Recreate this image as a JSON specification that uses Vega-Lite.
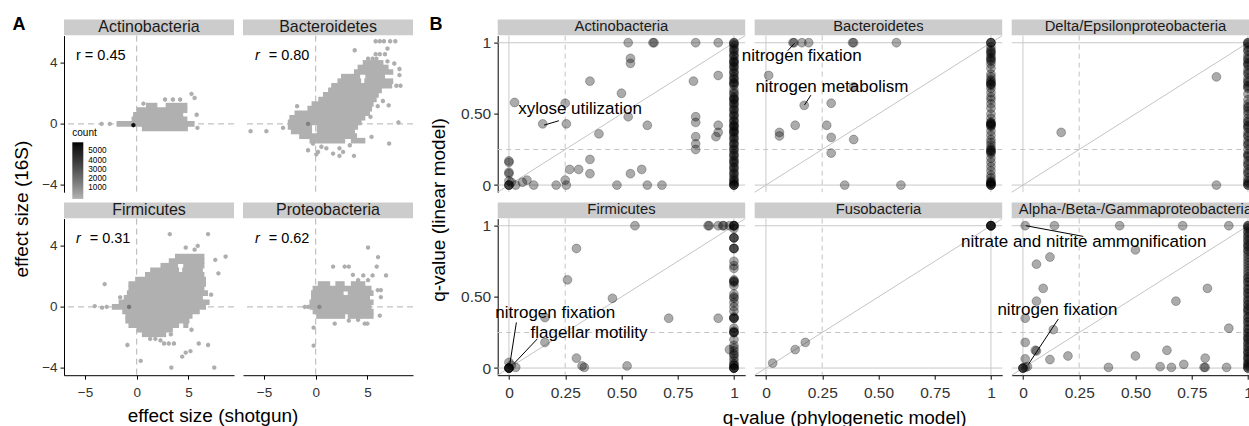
{
"$schema":"https://vega.github.io/schema/vega-lite/v6.json",
"usermeta":{"embedOptions":{"actions":false}},
"background":"white",
"padding":{"left":12,"top":15.6,"right":0,"bottom":0},
"config":{
 "font":"Liberation Sans",
 "view":{"stroke":null},
 "axis":{"grid":false,"domainColor":"#000","tickColor":"#000","labelColor":"#333","tickSize":4,"labelPadding":3,"domainWidth":1,"tickWidth":1,"labelFlush":false,"title":null},
 "axisX":{"labelPadding":6},
 "title":{"font":"Liberation Sans","fontWeight":"normal","color":"#000","fontSize":19}
},
"datasets":{
 "hexseg":[
  {"p":"Ac","y":1.2,"x":0.9,"x2":2.0},{"p":"Ac","y":1.2,"x":2.8,"x2":4.9},{"p":"Ac","y":0.9,"x":0.0,"x2":4.9},{"p":"Ac","y":0.6,"x":-0.35,"x2":4.5},{"p":"Ac","y":0.3,"x":-0.5,"x2":4.9},{"p":"Ac","y":0,"x":-1.95,"x2":5.6},{"p":"Ac","y":-0.3,"x":0.5,"x2":4.95},
  {"p":"Ba","y":4.0,"x":4.55,"x2":6.55},{"p":"Ba","y":3.7,"x":4.05,"x2":7.05},{"p":"Ba","y":3.4,"x":3.7,"x2":7.5},{"p":"Ba","y":3.1,"x":2.45,"x2":4.3},{"p":"Ba","y":3.1,"x":4.8,"x2":6.7},{"p":"Ba","y":2.8,"x":2.1,"x2":4.4},{"p":"Ba","y":2.8,"x":4.7,"x2":7.5},{"p":"Ba","y":2.5,"x":1.5,"x2":7.4},{"p":"Ba","y":2.2,"x":1.2,"x2":6.4},{"p":"Ba","y":1.9,"x":0.7,"x2":6.1},{"p":"Ba","y":1.6,"x":0.25,"x2":5.9},{"p":"Ba","y":1.3,"x":-0.4,"x2":5.6},{"p":"Ba","y":1.0,"x":-0.8,"x2":5.45},{"p":"Ba","y":0.7,"x":-2.05,"x2":5.25},{"p":"Ba","y":0.4,"x":-2.55,"x2":4.8},{"p":"Ba","y":0.1,"x":-2.7,"x2":4.45},{"p":"Ba","y":-0.2,"x":-2.7,"x2":-0.35},{"p":"Ba","y":-0.2,"x":0.1,"x2":4.1},{"p":"Ba","y":-0.5,"x":-2.4,"x2":-0.35},{"p":"Ba","y":-0.5,"x":0.1,"x2":3.8},{"p":"Ba","y":-0.8,"x":-1.6,"x2":4.0},{"p":"Ba","y":-1.1,"x":-0.6,"x2":2.85},{"p":"Ba","y":-1.1,"x":3.4,"x2":4.8},
  {"p":"Fi","y":3.3,"x":3.7,"x2":6.55},{"p":"Fi","y":3.0,"x":3.1,"x2":6.55},{"p":"Fi","y":2.7,"x":2.3,"x2":4.0},{"p":"Fi","y":2.7,"x":4.5,"x2":6.55},{"p":"Fi","y":2.4,"x":1.3,"x2":4.1},{"p":"Fi","y":2.4,"x":4.4,"x2":6.4},{"p":"Fi","y":2.1,"x":0.8,"x2":6.55},{"p":"Fi","y":1.8,"x":-0.15,"x2":6.7},{"p":"Fi","y":1.5,"x":-0.8,"x2":6.7},{"p":"Fi","y":1.2,"x":-0.8,"x2":6.55},{"p":"Fi","y":0.9,"x":-0.95,"x2":6.9},{"p":"Fi","y":0.6,"x":-1.25,"x2":6.4},{"p":"Fi","y":0.3,"x":-1.75,"x2":7.05},{"p":"Fi","y":0,"x":-2.4,"x2":6.7},{"p":"Fi","y":-0.3,"x":-1.4,"x2":6.1},{"p":"Fi","y":-0.6,"x":-1.1,"x2":5.4},{"p":"Fi","y":-0.9,"x":-1.1,"x2":5.1},{"p":"Fi","y":-1.2,"x":-0.8,"x2":4.1},{"p":"Fi","y":-1.2,"x":4.5,"x2":5.0},{"p":"Fi","y":-1.5,"x":0.0,"x2":3.5},{"p":"Fi","y":-1.8,"x":0.5,"x2":2.85},
  {"p":"Pr","y":1.5,"x":0.2,"x2":1.4},{"p":"Pr","y":1.5,"x":1.9,"x2":2.8},{"p":"Pr","y":1.5,"x":3.4,"x2":4.8},{"p":"Pr","y":1.2,"x":-0.3,"x2":5.4},{"p":"Pr","y":0.9,"x":-0.45,"x2":2.7},{"p":"Pr","y":0.9,"x":3.1,"x2":5.6},{"p":"Pr","y":0.6,"x":-0.45,"x2":5.25},{"p":"Pr","y":0.3,"x":-0.6,"x2":5.6},{"p":"Pr","y":0,"x":-0.6,"x2":5.4},{"p":"Pr","y":-0.3,"x":-0.3,"x2":5.6},{"p":"Pr","y":-0.6,"x":0.05,"x2":2.85},{"p":"Pr","y":-0.6,"x":3.1,"x2":5.6}
 ],
 "hexdot":[
  {"p":"Ac","x":5.3,"y":1.97,"n":5},{"p":"Ac","x":5.6,"y":1.7,"n":5},{"p":"Ac","x":2.74,"y":1.6,"n":5},{"p":"Ac","x":3.5,"y":1.6,"n":5},{"p":"Ac","x":4.2,"y":1.6,"n":5},{"p":"Ac","x":0.65,"y":1.33,"n":5},{"p":"Ac","x":5.8,"y":0.6,"n":5},{"p":"Ac","x":-3.4,"y":0,"n":5},{"p":"Ac","x":-2.6,"y":0,"n":5},{"p":"Ac","x":5.87,"y":-0.26,"n":5},{"p":"Ac","x":-0.32,"y":-0.08,"n":5600},
  {"p":"Ba","x":5.8,"y":5.42,"n":5},{"p":"Ba","x":6.2,"y":5.42,"n":5},{"p":"Ba","x":6.6,"y":5.42,"n":5},{"p":"Ba","x":7.2,"y":5.42,"n":5},{"p":"Ba","x":7.7,"y":5.42,"n":5},{"p":"Ba","x":3.77,"y":4.83,"n":5},{"p":"Ba","x":6.94,"y":4.94,"n":5},{"p":"Ba","x":5.8,"y":4.57,"n":5},{"p":"Ba","x":6.2,"y":4.57,"n":5},{"p":"Ba","x":6.7,"y":4.57,"n":5},{"p":"Ba","x":5.06,"y":4.28,"n":5},{"p":"Ba","x":5.5,"y":4.28,"n":5},{"p":"Ba","x":5.87,"y":4.28,"n":5},{"p":"Ba","x":6.94,"y":4.1,"n":5},{"p":"Ba","x":7.6,"y":3.96,"n":5},{"p":"Ba","x":8.1,"y":3.6,"n":5},{"p":"Ba","x":8.1,"y":3.2,"n":5},{"p":"Ba","x":7.8,"y":2.5,"n":5},{"p":"Ba","x":8.2,"y":2.5,"n":5},{"p":"Ba","x":6.5,"y":1.5,"n":5},{"p":"Ba","x":7.06,"y":1.22,"n":5},{"p":"Ba","x":6.0,"y":1.16,"n":5},{"p":"Ba","x":-1.8,"y":1.16,"n":5},{"p":"Ba","x":5.3,"y":0.46,"n":5},{"p":"Ba","x":8.0,"y":0.09,"n":5},{"p":"Ba","x":-3.16,"y":-0.26,"n":5},{"p":"Ba","x":-4.77,"y":-0.48,"n":5},{"p":"Ba","x":-6.3,"y":-0.48,"n":5},{"p":"Ba","x":5.4,"y":-0.85,"n":5},{"p":"Ba","x":-0.26,"y":-1.29,"n":5},{"p":"Ba","x":0.55,"y":-1.5,"n":5},{"p":"Ba","x":1.03,"y":-1.6,"n":5},{"p":"Ba","x":2.3,"y":-1.6,"n":5},{"p":"Ba","x":3.3,"y":-1.4,"n":5},{"p":"Ba","x":-0.74,"y":-1.73,"n":5},{"p":"Ba","x":0.23,"y":-1.84,"n":5},{"p":"Ba","x":1.68,"y":-1.95,"n":5},{"p":"Ba","x":2.65,"y":-1.84,"n":5},{"p":"Ba","x":0.06,"y":-2.0,"n":5},{"p":"Ba","x":2.3,"y":-2.1,"n":5},{"p":"Ba","x":3.7,"y":-2.1,"n":5},{"p":"Ba","x":7.1,"y":-1.29,"n":5},{"p":"Ba","x":-0.74,"y":0,"n":1500},
  {"p":"Fi","x":3.2,"y":4.77,"n":5},{"p":"Fi","x":6.9,"y":4.77,"n":5},{"p":"Fi","x":4.74,"y":3.89,"n":5},{"p":"Fi","x":5.9,"y":4.0,"n":5},{"p":"Fi","x":5.6,"y":3.75,"n":5},{"p":"Fi","x":8.6,"y":3.3,"n":5},{"p":"Fi","x":7.6,"y":3.08,"n":5},{"p":"Fi","x":7.9,"y":2.2,"n":5},{"p":"Fi","x":-3.1,"y":1.49,"n":5},{"p":"Fi","x":-1.6,"y":0.63,"n":5},{"p":"Fi","x":-4.06,"y":0.05,"n":5},{"p":"Fi","x":-3.35,"y":-0.05,"n":5},{"p":"Fi","x":-2.9,"y":0.0,"n":5},{"p":"Fi","x":-0.9,"y":-2.5,"n":5},{"p":"Fi","x":0.39,"y":-3.54,"n":5},{"p":"Fi","x":3.35,"y":-3.98,"n":5},{"p":"Fi","x":7.5,"y":-3.98,"n":5},{"p":"Fi","x":4.4,"y":-3.26,"n":5},{"p":"Fi","x":4.74,"y":-3.0,"n":5},{"p":"Fi","x":5.2,"y":-2.9,"n":5},{"p":"Fi","x":6.0,"y":-2.4,"n":5},{"p":"Fi","x":6.9,"y":-2.5,"n":5},{"p":"Fi","x":2.65,"y":-2.4,"n":5},{"p":"Fi","x":3.1,"y":-2.4,"n":5},{"p":"Fi","x":3.6,"y":-2.4,"n":5},{"p":"Fi","x":1.3,"y":-2.1,"n":5},{"p":"Fi","x":1.8,"y":-2.1,"n":5},{"p":"Fi","x":2.3,"y":-2.2,"n":5},{"p":"Fi","x":7.2,"y":0.8,"n":5},{"p":"Fi","x":5.3,"y":-1.5,"n":5},{"p":"Fi","x":3.3,"y":-1.8,"n":5},{"p":"Fi","x":-0.74,"y":0,"n":1800},
  {"p":"Pr","x":5.06,"y":3.89,"n":5},{"p":"Pr","x":6.03,"y":3.26,"n":5},{"p":"Pr","x":1.68,"y":2.64,"n":5},{"p":"Pr","x":2.8,"y":2.64,"n":5},{"p":"Pr","x":3.2,"y":2.64,"n":5},{"p":"Pr","x":5.9,"y":2.64,"n":5},{"p":"Pr","x":3.6,"y":2.1,"n":5},{"p":"Pr","x":4.6,"y":2.06,"n":5},{"p":"Pr","x":5.5,"y":2.06,"n":5},{"p":"Pr","x":6.8,"y":2.06,"n":5},{"p":"Pr","x":4.1,"y":1.75,"n":5},{"p":"Pr","x":5.06,"y":1.75,"n":5},{"p":"Pr","x":6.0,"y":1.1,"n":5},{"p":"Pr","x":6.3,"y":1.1,"n":5},{"p":"Pr","x":6.3,"y":0.64,"n":5},{"p":"Pr","x":6.2,"y":-0.57,"n":5},{"p":"Pr","x":1.84,"y":-1.1,"n":5},{"p":"Pr","x":3.2,"y":-0.9,"n":5},{"p":"Pr","x":4.1,"y":-0.85,"n":5},{"p":"Pr","x":4.74,"y":-1.1,"n":5},{"p":"Pr","x":5.0,"y":-1.1,"n":5},{"p":"Pr","x":-0.2,"y":-1.36,"n":5},{"p":"Pr","x":-0.2,"y":-2.54,"n":5},{"p":"Pr","x":-1.06,"y":0,"n":5},{"p":"Pr","x":-0.74,"y":0,"n":5},{"p":"Pr","x":0.36,"y":0,"n":1200}
 ],
 "rlab":[
  {"p":"Ac","x":-5.87,"xi":-5.87,"y":4.48,"rt":"r = 0.45","ri":""},
  {"p":"Ba","x":-4.55,"xi":-5.87,"y":4.48,"rt":"= 0.80","ri":"r"},
  {"p":"Fi","x":-4.55,"xi":-5.87,"y":4.48,"rt":"= 0.31","ri":"r"},
  {"p":"Pr","x":-4.55,"xi":-5.87,"y":4.48,"rt":"= 0.62","ri":"r"}
 ],
 "bref":[{"v":0,"k":"s"},{"v":1,"k":"s"},{"v":0.25,"k":"d"}],
 "diag":[{"a":-0.05,"b":1.05}],
 "lab":[
  {"p":"Ac","x":0.316,"y":0.532,"t":"xylose utilization"},
  {"p":"Ba","x":0.159,"y":0.906,"t":"nitrogen fixation"},
  {"p":"Ba","x":0.293,"y":0.687,"t":"nitrogen metabolism"},
  {"p":"Fi","x":0.206,"y":0.39,"t":"nitrogen fixation"},
  {"p":"Fi","x":0.356,"y":0.244,"t":"flagellar motility"},
  {"p":"Al","x":0.27,"y":0.884,"t":"nitrate and nitrite ammonification"},
  {"p":"Al","x":0.153,"y":0.409,"t":"nitrogen fixation"}
 ],
 "seg":[
  {"p":"Ac","x":0.156,"y":0.421,"x2":0.222,"y2":0.452},
  {"p":"Ba","x":0.127,"y":0.996,"x2":0.097,"y2":0.944},
  {"p":"Ba","x":0.171,"y":0.562,"x2":0.2,"y2":0.632},
  {"p":"Fi","x":0.003,"y":0.019,"x2":0.033,"y2":0.321},
  {"p":"Fi","x":0.022,"y":0.031,"x2":0.126,"y2":0.205},
  {"p":"Al","x":0.013,"y":1,"x2":0.268,"y2":0.925},
  {"p":"Al","x":0.024,"y":0.026,"x2":0.157,"y2":0.344}
 ],
 "pts":[
  {"p":"Ac","x":0.53,"y":1},{"p":"Ac","x":0.64,"y":1},{"p":"Ac","x":0.645,"y":1},{"p":"Ac","x":0.83,"y":1},{"p":"Ac","x":0.93,"y":1},
  {"p":"Ac","x":0.54,"y":0.89},{"p":"Ac","x":0.54,"y":0.855},{"p":"Ac","x":0.36,"y":0.73},{"p":"Ac","x":0.82,"y":0.73},{"p":"Ac","x":0.93,"y":0.77},
  {"p":"Ac","x":0.025,"y":0.58},{"p":"Ac","x":0.25,"y":0.575},{"p":"Ac","x":0.5,"y":0.645},{"p":"Ac","x":0.15,"y":0.43},{"p":"Ac","x":0.255,"y":0.43},
  {"p":"Ac","x":0.53,"y":0.48},{"p":"Ac","x":0.615,"y":0.42},{"p":"Ac","x":0.4,"y":0.36},{"p":"Ac","x":0.83,"y":0.48},{"p":"Ac","x":0.83,"y":0.44},
  {"p":"Ac","x":0.83,"y":0.34},{"p":"Ac","x":0.83,"y":0.29},{"p":"Ac","x":0.83,"y":0.25},{"p":"Ac","x":0.93,"y":0.42},{"p":"Ac","x":0.93,"y":0.37},{"p":"Ac","x":0.92,"y":0.34},
  {"p":"Ac","x":0.36,"y":0.18},{"p":"Ac","x":0.36,"y":0.08},{"p":"Ac","x":0.27,"y":0.11},{"p":"Ac","x":0.31,"y":0.11},{"p":"Ac","x":0.25,"y":0.035},{"p":"Ac","x":0.54,"y":0.08},{"p":"Ac","x":0.59,"y":0.11},
  {"p":"Ac","x":0.11,"y":0},{"p":"Ac","x":0.21,"y":0},{"p":"Ac","x":0.255,"y":0},{"p":"Ac","x":0.48,"y":0},{"p":"Ac","x":0.615,"y":0},{"p":"Ac","x":0.68,"y":0},
  {"p":"Ac","x":0,"y":0.17},{"p":"Ac","x":0,"y":0.16},{"p":"Ac","x":0,"y":0.09},{"p":"Ac","x":0,"y":0.08},{"p":"Ac","x":0,"y":0.03},{"p":"Ac","x":0,"y":0},{"p":"Ac","x":0,"y":0},{"p":"Ac","x":0,"y":0},{"p":"Ac","x":0.01,"y":0.02},{"p":"Ac","x":0.03,"y":0},{"p":"Ac","x":0.06,"y":0.02},{"p":"Ac","x":0.08,"y":0.035},
  {"p":"Ac","x":1,"y":1},{"p":"Ac","x":1,"y":1},{"p":"Ac","x":1,"y":0.98},{"p":"Ac","x":1,"y":0.96},{"p":"Ac","x":1,"y":0.94},{"p":"Ac","x":1,"y":0.92},{"p":"Ac","x":1,"y":0.9},{"p":"Ac","x":1,"y":0.88},{"p":"Ac","x":1,"y":0.86},{"p":"Ac","x":1,"y":0.86},{"p":"Ac","x":1,"y":0.84},{"p":"Ac","x":1,"y":0.82},{"p":"Ac","x":1,"y":0.8},{"p":"Ac","x":1,"y":0.78},{"p":"Ac","x":1,"y":0.76},{"p":"Ac","x":1,"y":0.74},{"p":"Ac","x":1,"y":0.72},{"p":"Ac","x":1,"y":0.72},{"p":"Ac","x":1,"y":0.7},{"p":"Ac","x":1,"y":0.67},{"p":"Ac","x":1,"y":0.64},{"p":"Ac","x":1,"y":0.62},{"p":"Ac","x":1,"y":0.6},{"p":"Ac","x":1,"y":0.6},{"p":"Ac","x":1,"y":0.58},{"p":"Ac","x":1,"y":0.56},{"p":"Ac","x":1,"y":0.54},{"p":"Ac","x":1,"y":0.52},{"p":"Ac","x":1,"y":0.5},{"p":"Ac","x":1,"y":0.48},{"p":"Ac","x":1,"y":0.46},{"p":"Ac","x":1,"y":0.44},{"p":"Ac","x":1,"y":0.42},{"p":"Ac","x":1,"y":0.42},{"p":"Ac","x":1,"y":0.4},{"p":"Ac","x":1,"y":0.38},{"p":"Ac","x":1,"y":0.38},{"p":"Ac","x":1,"y":0.36},{"p":"Ac","x":1,"y":0.34},{"p":"Ac","x":1,"y":0.32},{"p":"Ac","x":1,"y":0.3},{"p":"Ac","x":1,"y":0.28},{"p":"Ac","x":1,"y":0.26},{"p":"Ac","x":1,"y":0.24},{"p":"Ac","x":1,"y":0.22},{"p":"Ac","x":1,"y":0.2},{"p":"Ac","x":1,"y":0.18},{"p":"Ac","x":1,"y":0.17},{"p":"Ac","x":1,"y":0.15},{"p":"Ac","x":1,"y":0.13},{"p":"Ac","x":1,"y":0.11},{"p":"Ac","x":1,"y":0.09},{"p":"Ac","x":1,"y":0.07},{"p":"Ac","x":1,"y":0.05},{"p":"Ac","x":1,"y":0.03},{"p":"Ac","x":1,"y":0.02},{"p":"Ac","x":1,"y":0},{"p":"Ac","x":1,"y":0},{"p":"Ac","x":1,"y":0},
  {"p":"Ac","x":1,"y":0.99},{"p":"Ac","x":1,"y":0.95},{"p":"Ac","x":1,"y":0.91},{"p":"Ac","x":1,"y":0.87},{"p":"Ac","x":1,"y":0.83},{"p":"Ac","x":1,"y":0.79},{"p":"Ac","x":1,"y":0.75},{"p":"Ac","x":1,"y":0.71},{"p":"Ac","x":1,"y":0.65},{"p":"Ac","x":1,"y":0.61},{"p":"Ac","x":1,"y":0.57},{"p":"Ac","x":1,"y":0.53},{"p":"Ac","x":1,"y":0.49},{"p":"Ac","x":1,"y":0.45},{"p":"Ac","x":1,"y":0.41},{"p":"Ac","x":1,"y":0.37},{"p":"Ac","x":1,"y":0.33},{"p":"Ac","x":1,"y":0.29},{"p":"Ac","x":1,"y":0.25},{"p":"Ac","x":1,"y":0.21},{"p":"Ac","x":1,"y":0.16},{"p":"Ac","x":1,"y":0.12},{"p":"Ac","x":1,"y":0.08},{"p":"Ac","x":1,"y":0.04},{"p":"Ac","x":1,"y":0.01},
  {"p":"Ba","x":0.12,"y":1},{"p":"Ba","x":0.125,"y":1},{"p":"Ba","x":0.16,"y":1},{"p":"Ba","x":0.19,"y":1},{"p":"Ba","x":0.39,"y":1},{"p":"Ba","x":0.385,"y":1},{"p":"Ba","x":0.58,"y":1},
  {"p":"Ba","x":0.012,"y":0.77},{"p":"Ba","x":0.39,"y":0.69},{"p":"Ba","x":0.17,"y":0.56},{"p":"Ba","x":0.29,"y":0.575},{"p":"Ba","x":0.13,"y":0.42},{"p":"Ba","x":0.27,"y":0.42},{"p":"Ba","x":0.06,"y":0.37},{"p":"Ba","x":0.06,"y":0.345},{"p":"Ba","x":0.29,"y":0.335},{"p":"Ba","x":0.39,"y":0.32},{"p":"Ba","x":0.29,"y":0.225},{"p":"Ba","x":0.35,"y":0},{"p":"Ba","x":0.6,"y":0},
  {"p":"Ba","x":1,"y":1},{"p":"Ba","x":1,"y":1},{"p":"Ba","x":1,"y":0.97},{"p":"Ba","x":1,"y":0.94},{"p":"Ba","x":1,"y":0.92},{"p":"Ba","x":1,"y":0.9},{"p":"Ba","x":1,"y":0.88},{"p":"Ba","x":1,"y":0.85},{"p":"Ba","x":1,"y":0.82},{"p":"Ba","x":1,"y":0.78},{"p":"Ba","x":1,"y":0.76},{"p":"Ba","x":1,"y":0.74},{"p":"Ba","x":1,"y":0.72},{"p":"Ba","x":1,"y":0.71},{"p":"Ba","x":1,"y":0.7},{"p":"Ba","x":1,"y":0.68},{"p":"Ba","x":1,"y":0.65},{"p":"Ba","x":1,"y":0.62},{"p":"Ba","x":1,"y":0.6},{"p":"Ba","x":1,"y":0.57},{"p":"Ba","x":1,"y":0.54},{"p":"Ba","x":1,"y":0.5},{"p":"Ba","x":1,"y":0.47},{"p":"Ba","x":1,"y":0.44},{"p":"Ba","x":1,"y":0.43},{"p":"Ba","x":1,"y":0.42},{"p":"Ba","x":1,"y":0.41},{"p":"Ba","x":1,"y":0.38},{"p":"Ba","x":1,"y":0.35},{"p":"Ba","x":1,"y":0.32},{"p":"Ba","x":1,"y":0.3},{"p":"Ba","x":1,"y":0.28},{"p":"Ba","x":1,"y":0.26},{"p":"Ba","x":1,"y":0.25},{"p":"Ba","x":1,"y":0.24},{"p":"Ba","x":1,"y":0.22},{"p":"Ba","x":1,"y":0.19},{"p":"Ba","x":1,"y":0.16},{"p":"Ba","x":1,"y":0.13},{"p":"Ba","x":1,"y":0.1},{"p":"Ba","x":1,"y":0.07},{"p":"Ba","x":1,"y":0.05},{"p":"Ba","x":1,"y":0.02},{"p":"Ba","x":1,"y":0.01},{"p":"Ba","x":1,"y":0},{"p":"Ba","x":1,"y":0},
  {"p":"Ba","x":1,"y":1},{"p":"Ba","x":1,"y":0.95},{"p":"Ba","x":1,"y":0.93},{"p":"Ba","x":1,"y":0.89},{"p":"Ba","x":1,"y":0.87},{"p":"Ba","x":1,"y":0.73},{"p":"Ba","x":1,"y":0.71},{"p":"Ba","x":1,"y":0.44},{"p":"Ba","x":1,"y":0.43},{"p":"Ba","x":1,"y":0.42},{"p":"Ba","x":1,"y":0.24},{"p":"Ba","x":1,"y":0.23},{"p":"Ba","x":1,"y":0.03},{"p":"Ba","x":1,"y":0.02},{"p":"Ba","x":1,"y":0.01},{"p":"Ba","x":1,"y":0},
  {"p":"De","x":0.86,"y":0.76},{"p":"De","x":0.17,"y":0.37},{"p":"De","x":0.86,"y":0},
  {"p":"De","x":1,"y":1},{"p":"De","x":1,"y":1},{"p":"De","x":1,"y":0.97},{"p":"De","x":1,"y":0.94},{"p":"De","x":1,"y":0.91},{"p":"De","x":1,"y":0.88},{"p":"De","x":1,"y":0.86},{"p":"De","x":1,"y":0.84},{"p":"De","x":1,"y":0.81},{"p":"De","x":1,"y":0.78},{"p":"De","x":1,"y":0.75},{"p":"De","x":1,"y":0.72},{"p":"De","x":1,"y":0.7},{"p":"De","x":1,"y":0.68},{"p":"De","x":1,"y":0.64},{"p":"De","x":1,"y":0.6},{"p":"De","x":1,"y":0.57},{"p":"De","x":1,"y":0.54},{"p":"De","x":1,"y":0.52},{"p":"De","x":1,"y":0.5},{"p":"De","x":1,"y":0.47},{"p":"De","x":1,"y":0.44},{"p":"De","x":1,"y":0.42},{"p":"De","x":1,"y":0.4},{"p":"De","x":1,"y":0.37},{"p":"De","x":1,"y":0.34},{"p":"De","x":1,"y":0.31},{"p":"De","x":1,"y":0.28},{"p":"De","x":1,"y":0.25},{"p":"De","x":1,"y":0.22},{"p":"De","x":1,"y":0.2},{"p":"De","x":1,"y":0.17},{"p":"De","x":1,"y":0.14},{"p":"De","x":1,"y":0.11},{"p":"De","x":1,"y":0.08},{"p":"De","x":1,"y":0.05},{"p":"De","x":1,"y":0.02},{"p":"De","x":1,"y":0},{"p":"De","x":1,"y":0},
  {"p":"De","x":1,"y":0.99},{"p":"De","x":1,"y":0.95},{"p":"De","x":1,"y":0.89},{"p":"De","x":1,"y":0.85},{"p":"De","x":1,"y":0.79},{"p":"De","x":1,"y":0.73},{"p":"De","x":1,"y":0.69},{"p":"De","x":1,"y":0.55},{"p":"De","x":1,"y":0.45},{"p":"De","x":1,"y":0.41},{"p":"De","x":1,"y":0.35},{"p":"De","x":1,"y":0.29},{"p":"De","x":1,"y":0.21},{"p":"De","x":1,"y":0.15},{"p":"De","x":1,"y":0.09},{"p":"De","x":1,"y":0.03},{"p":"De","x":1,"y":0.01},
  {"p":"Fi","x":0.56,"y":1},{"p":"Fi","x":0.885,"y":1},{"p":"Fi","x":0.89,"y":1},{"p":"Fi","x":0.93,"y":1},{"p":"Fi","x":0.95,"y":1},{"p":"Fi","x":0.955,"y":1},{"p":"Fi","x":0.98,"y":1},{"p":"Fi","x":0.3,"y":0.84},{"p":"Fi","x":0.26,"y":0.62},{"p":"Fi","x":0.46,"y":0.49},{"p":"Fi","x":0.16,"y":0.355},{"p":"Fi","x":0.71,"y":0.35},{"p":"Fi","x":0.93,"y":0.35},{"p":"Fi","x":0.16,"y":0.18},{"p":"Fi","x":0.3,"y":0.07},{"p":"Fi","x":0.325,"y":0.015},{"p":"Fi","x":0.335,"y":0.005},{"p":"Fi","x":0.525,"y":0.015},{"p":"Fi","x":0.98,"y":0.13},{"p":"Fi","x":0,"y":0},{"p":"Fi","x":0,"y":0},{"p":"Fi","x":0,"y":0},{"p":"Fi","x":0,"y":0},{"p":"Fi","x":0,"y":0},{"p":"Fi","x":0.01,"y":0.02},{"p":"Fi","x":0.03,"y":0.005},{"p":"Fi","x":0,"y":0.04},
  {"p":"Fi","x":1,"y":1},{"p":"Fi","x":1,"y":1},{"p":"Fi","x":1,"y":1},{"p":"Fi","x":1,"y":0.98},{"p":"Fi","x":1,"y":0.915},{"p":"Fi","x":1,"y":0.915},{"p":"Fi","x":1,"y":0.84},{"p":"Fi","x":1,"y":0.84},{"p":"Fi","x":1,"y":0.75},{"p":"Fi","x":1,"y":0.72},{"p":"Fi","x":1,"y":0.7},{"p":"Fi","x":1,"y":0.62},{"p":"Fi","x":1,"y":0.61},{"p":"Fi","x":1,"y":0.6},{"p":"Fi","x":1,"y":0.58},{"p":"Fi","x":1,"y":0.52},{"p":"Fi","x":1,"y":0.5},{"p":"Fi","x":1,"y":0.49},{"p":"Fi","x":1,"y":0.46},{"p":"Fi","x":1,"y":0.43},{"p":"Fi","x":1,"y":0.4},{"p":"Fi","x":1,"y":0.36},{"p":"Fi","x":1,"y":0.35},{"p":"Fi","x":1,"y":0.35},{"p":"Fi","x":1,"y":0.28},{"p":"Fi","x":1,"y":0.26},{"p":"Fi","x":1,"y":0.25},{"p":"Fi","x":1,"y":0.25},{"p":"Fi","x":1,"y":0.2},{"p":"Fi","x":1,"y":0.16},{"p":"Fi","x":1,"y":0.14},{"p":"Fi","x":1,"y":0.12},{"p":"Fi","x":1,"y":0.1},{"p":"Fi","x":1,"y":0.09},{"p":"Fi","x":1,"y":0.07},{"p":"Fi","x":1,"y":0.05},{"p":"Fi","x":1,"y":0.03},{"p":"Fi","x":1,"y":0.02},{"p":"Fi","x":1,"y":0},{"p":"Fi","x":1,"y":0},{"p":"Fi","x":1,"y":0},
  {"p":"Fi","x":1,"y":1},{"p":"Fi","x":1,"y":0.915},{"p":"Fi","x":1,"y":0.84},{"p":"Fi","x":1,"y":0.61},{"p":"Fi","x":1,"y":0.35},{"p":"Fi","x":1,"y":0.25},{"p":"Fi","x":1,"y":0.02},{"p":"Fi","x":1,"y":0},
  {"p":"Fu","x":0.03,"y":0.035},{"p":"Fu","x":0.13,"y":0.13},{"p":"Fu","x":0.175,"y":0.18},{"p":"Fu","x":1,"y":1},{"p":"Fu","x":1,"y":1},{"p":"Fu","x":1,"y":1},{"p":"Fu","x":1,"y":1},{"p":"Fu","x":1,"y":1},
  {"p":"Al","x":0.01,"y":1},{"p":"Al","x":0.14,"y":1},{"p":"Al","x":0.43,"y":1},{"p":"Al","x":0.71,"y":1},{"p":"Al","x":0.915,"y":1},{"p":"Al","x":0.5,"y":0.83},{"p":"Al","x":0.06,"y":0.73},{"p":"Al","x":0.12,"y":0.78},{"p":"Al","x":0.09,"y":0.56},{"p":"Al","x":0.82,"y":0.56},{"p":"Al","x":0.06,"y":0.47},{"p":"Al","x":0.68,"y":0.47},{"p":"Al","x":0.01,"y":0.35},{"p":"Al","x":0.135,"y":0.27},{"p":"Al","x":0.915,"y":0.28},{"p":"Al","x":0.01,"y":0.18},{"p":"Al","x":0.055,"y":0.125},{"p":"Al","x":0.06,"y":0.12},{"p":"Al","x":0.01,"y":0.065},{"p":"Al","x":0.12,"y":0.06},{"p":"Al","x":0.2,"y":0.085},{"p":"Al","x":0.5,"y":0.085},{"p":"Al","x":0.64,"y":0.125},{"p":"Al","x":0.81,"y":0.07},{"p":"Al","x":0.38,"y":0.005},{"p":"Al","x":0.61,"y":0.01},{"p":"Al","x":0.66,"y":0.005},{"p":"Al","x":0.715,"y":0.026},{"p":"Al","x":0.805,"y":0.005},{"p":"Al","x":0.81,"y":0.005},{"p":"Al","x":0.905,"y":0.005},{"p":"Al","x":0,"y":0},{"p":"Al","x":0,"y":0},{"p":"Al","x":0,"y":0},{"p":"Al","x":0.01,"y":0.005},{"p":"Al","x":0.02,"y":0.01},
  {"p":"Al","x":1,"y":1},{"p":"Al","x":1,"y":1},{"p":"Al","x":1,"y":0.98},{"p":"Al","x":1,"y":0.95},{"p":"Al","x":1,"y":0.92},{"p":"Al","x":1,"y":0.9},{"p":"Al","x":1,"y":0.87},{"p":"Al","x":1,"y":0.85},{"p":"Al","x":1,"y":0.82},{"p":"Al","x":1,"y":0.78},{"p":"Al","x":1,"y":0.74},{"p":"Al","x":1,"y":0.7},{"p":"Al","x":1,"y":0.66},{"p":"Al","x":1,"y":0.63},{"p":"Al","x":1,"y":0.6},{"p":"Al","x":1,"y":0.58},{"p":"Al","x":1,"y":0.55},{"p":"Al","x":1,"y":0.52},{"p":"Al","x":1,"y":0.5},{"p":"Al","x":1,"y":0.47},{"p":"Al","x":1,"y":0.44},{"p":"Al","x":1,"y":0.42},{"p":"Al","x":1,"y":0.4},{"p":"Al","x":1,"y":0.38},{"p":"Al","x":1,"y":0.35},{"p":"Al","x":1,"y":0.32},{"p":"Al","x":1,"y":0.3},{"p":"Al","x":1,"y":0.27},{"p":"Al","x":1,"y":0.24},{"p":"Al","x":1,"y":0.22},{"p":"Al","x":1,"y":0.2},{"p":"Al","x":1,"y":0.17},{"p":"Al","x":1,"y":0.14},{"p":"Al","x":1,"y":0.12},{"p":"Al","x":1,"y":0.1},{"p":"Al","x":1,"y":0.08},{"p":"Al","x":1,"y":0.06},{"p":"Al","x":1,"y":0.04},{"p":"Al","x":1,"y":0.02},{"p":"Al","x":1,"y":0},{"p":"Al","x":1,"y":0},
  {"p":"Al","x":1,"y":0.99},{"p":"Al","x":1,"y":0.96},{"p":"Al","x":1,"y":0.93},{"p":"Al","x":1,"y":0.89},{"p":"Al","x":1,"y":0.86},{"p":"Al","x":1,"y":0.83},{"p":"Al","x":1,"y":0.8},{"p":"Al","x":1,"y":0.76},{"p":"Al","x":1,"y":0.72},{"p":"Al","x":1,"y":0.68},{"p":"Al","x":1,"y":0.64},{"p":"Al","x":1,"y":0.61},{"p":"Al","x":1,"y":0.56},{"p":"Al","x":1,"y":0.53},{"p":"Al","x":1,"y":0.48},{"p":"Al","x":1,"y":0.45},{"p":"Al","x":1,"y":0.41},{"p":"Al","x":1,"y":0.36},{"p":"Al","x":1,"y":0.33},{"p":"Al","x":1,"y":0.28},{"p":"Al","x":1,"y":0.25},{"p":"Al","x":1,"y":0.21},{"p":"Al","x":1,"y":0.18},{"p":"Al","x":1,"y":0.15},{"p":"Al","x":1,"y":0.11},{"p":"Al","x":1,"y":0.07},{"p":"Al","x":1,"y":0.03},{"p":"Al","x":1,"y":0.01}
 ]
},
"spacing":14.7,
"hconcat":[
{"title":{"text":"A","anchor":"start","frame":"bounds","fontSize":18,"fontWeight":"bold","offset":0,"baseline":"alphabetic","dy":29},
 "vconcat":[
 {"title":{"text":"effect size (shotgun)","orient":"bottom","anchor":"middle","frame":"bounds","fontSize":19,"offset":8},
  "vconcat":[
  {"title":{"text":"effect size (16S)","orient":"left","anchor":"middle","frame":"bounds","fontSize":19,"offset":10},
   "columns":2,"bounds":"flush","align":"each","spacing":{"row":0,"column":9},
   "resolve":{"scale":{"color":"independent"},"legend":{"color":"independent"}},
   "concat":[
    {"width":170,"height":15.7,"view":{"fill":"#cccccc"},"data":{"values":[{"s":"Actinobacteria"}]},"mark":{"type":"text","fontSize":16,"color":"#1a1a1a"},"encoding":{"text":{"field":"s"}}},
    {"width":170,"height":15.7,"view":{"fill":"#cccccc"},"data":{"values":[{"s":"Bacteroidetes"}]},"mark":{"type":"text","fontSize":16,"color":"#1a1a1a"},"encoding":{"text":{"field":"s"}}},
    {"width":170,"height":156.6,"layer":[
      {"data":{"values":[{}]},"mark":{"type":"rule","color":"#b3b3b3","strokeDash":[6,4]},"encoding":{"x":{"datum":0,"type":"quantitative","scale":{"domain":[-7.03,9.41],"nice":false,"zero":false},"axis":null}}},
      {"data":{"values":[{}]},"mark":{"type":"rule","color":"#b3b3b3","strokeDash":[6,4]},"encoding":{"y":{"datum":0,"type":"quantitative","scale":{"domain":[-4.48,5.79],"nice":false,"zero":false},"axis":{"values":[-4,-2,0,2,4],"title":null,"labelFontSize":13.5}}}},
      {"data":{"name":"hexseg"},"transform":[{"filter":"datum.p=='Ac'"}],"mark":{"type":"rule","strokeWidth":5.6,"strokeCap":"butt","color":"#b0b0b0"},"encoding":{"x":{"field":"x","type":"quantitative","axis":null},"x2":{"field":"x2"},"y":{"field":"y","type":"quantitative"}}},
      {"data":{"name":"hexdot"},"transform":[{"filter":"datum.p=='Ac'"}],"mark":{"type":"point","shape":"M0,-1L0.866,-0.5L0.866,0.5L0,1L-0.866,0.5L-0.866,-0.5Z","filled":true,"size":23,"opacity":1},"encoding":{"x":{"field":"x","type":"quantitative","axis":null},"y":{"field":"y","type":"quantitative"},"color":{"field":"n","type":"quantitative","scale":{"domain":[-150,5970],"range":["#b3b3b3","#000000"],"interpolate":"lab"},"legend":{"type":"gradient","orient":"none","legendX":8.3,"legendY":92,"direction":"vertical","gradientLength":56.6,"gradientThickness":11,"title":"count","titleFontSize":10,"titleFontWeight":"normal","titleColor":"#000","titlePadding":4.7,"labelFontSize":8.2,"labelColor":"#000","labelOffset":5,"values":[1000,2000,3000,4000,5000],"format":"d","gradientStrokeWidth":0,"padding":0,"labelOverlap":false}}}},
      {"data":{"name":"rlab"},"transform":[{"filter":"datum.p=='Ac'"}],"mark":{"type":"text","align":"left","baseline":"middle","fontSize":14.5,"color":"#000"},"encoding":{"x":{"field":"x","type":"quantitative","axis":null},"y":{"field":"y","type":"quantitative"},"text":{"field":"rt"}}}
    ]},
    {"width":170,"height":156.6,"layer":[
      {"data":{"values":[{}]},"mark":{"type":"rule","color":"#b3b3b3","strokeDash":[6,4]},"encoding":{"x":{"datum":0,"type":"quantitative","scale":{"domain":[-7.03,9.41],"nice":false,"zero":false},"axis":null}}},
      {"data":{"values":[{}]},"mark":{"type":"rule","color":"#b3b3b3","strokeDash":[6,4]},"encoding":{"y":{"datum":0,"type":"quantitative","scale":{"domain":[-4.48,5.79],"nice":false,"zero":false},"axis":null}}},
      {"data":{"name":"hexseg"},"transform":[{"filter":"datum.p=='Ba'"}],"mark":{"type":"rule","strokeWidth":5.6,"strokeCap":"butt","color":"#b0b0b0"},"encoding":{"x":{"field":"x","type":"quantitative","axis":null},"x2":{"field":"x2"},"y":{"field":"y","type":"quantitative","axis":null}}},
      {"data":{"name":"hexdot"},"transform":[{"filter":"datum.p=='Ba'"}],"mark":{"type":"point","shape":"M0,-1L0.866,-0.5L0.866,0.5L0,1L-0.866,0.5L-0.866,-0.5Z","filled":true,"size":23,"opacity":1},"encoding":{"x":{"field":"x","type":"quantitative","axis":null},"y":{"field":"y","type":"quantitative","axis":null},"color":{"field":"n","type":"quantitative","scale":{"domain":[-150,5970],"range":["#b3b3b3","#000000"],"interpolate":"lab"},"legend":null}}},
      {"data":{"name":"rlab"},"transform":[{"filter":"datum.p=='Ba'"}],"mark":{"type":"text","align":"left","baseline":"middle","fontSize":14.5,"color":"#000"},"encoding":{"x":{"field":"x","type":"quantitative","axis":null},"y":{"field":"y","type":"quantitative","axis":null},"text":{"field":"rt"}}},
      {"data":{"name":"rlab"},"transform":[{"filter":"datum.p=='Ba'"}],"mark":{"type":"text","align":"left","baseline":"middle","fontSize":14.5,"fontStyle":"italic","color":"#000"},"encoding":{"x":{"field":"xi","type":"quantitative","axis":null},"y":{"field":"y","type":"quantitative","axis":null},"text":{"field":"ri"}}}
    ]},
    {"width":170,"height":9.7,"data":{"values":[{"s":""}]},"mark":{"type":"text"},"encoding":{"text":{"field":"s"}}},
    {"width":170,"height":9.7,"data":{"values":[{"s":""}]},"mark":{"type":"text"},"encoding":{"text":{"field":"s"}}},
    {"width":170,"height":15.7,"view":{"fill":"#cccccc"},"data":{"values":[{"s":"Firmicutes"}]},"mark":{"type":"text","fontSize":16,"color":"#1a1a1a"},"encoding":{"text":{"field":"s"}}},
    {"width":170,"height":15.7,"view":{"fill":"#cccccc"},"data":{"values":[{"s":"Proteobacteria"}]},"mark":{"type":"text","fontSize":16,"color":"#1a1a1a"},"encoding":{"text":{"field":"s"}}},
    {"width":170,"height":156.6,"layer":[
      {"data":{"values":[{}]},"mark":{"type":"rule","color":"#b3b3b3","strokeDash":[6,4]},"encoding":{"x":{"datum":0,"type":"quantitative","scale":{"domain":[-7.03,9.41],"nice":false,"zero":false},"axis":{"values":[-5,0,5],"title":null,"labelFontSize":13.5}}}},
      {"data":{"values":[{}]},"mark":{"type":"rule","color":"#b3b3b3","strokeDash":[6,4]},"encoding":{"y":{"datum":0,"type":"quantitative","scale":{"domain":[-4.48,5.79],"nice":false,"zero":false},"axis":{"values":[-4,-2,0,2,4],"title":null,"labelFontSize":13.5}}}},
      {"data":{"name":"hexseg"},"transform":[{"filter":"datum.p=='Fi'"}],"mark":{"type":"rule","strokeWidth":5.6,"strokeCap":"butt","color":"#b0b0b0"},"encoding":{"x":{"field":"x","type":"quantitative"},"x2":{"field":"x2"},"y":{"field":"y","type":"quantitative"}}},
      {"data":{"name":"hexdot"},"transform":[{"filter":"datum.p=='Fi'"}],"mark":{"type":"point","shape":"M0,-1L0.866,-0.5L0.866,0.5L0,1L-0.866,0.5L-0.866,-0.5Z","filled":true,"size":23,"opacity":1},"encoding":{"x":{"field":"x","type":"quantitative"},"y":{"field":"y","type":"quantitative"},"color":{"field":"n","type":"quantitative","scale":{"domain":[-150,5970],"range":["#b3b3b3","#000000"],"interpolate":"lab"},"legend":null}}},
      {"data":{"name":"rlab"},"transform":[{"filter":"datum.p=='Fi'"}],"mark":{"type":"text","align":"left","baseline":"middle","fontSize":14.5,"color":"#000"},"encoding":{"x":{"field":"x","type":"quantitative"},"y":{"field":"y","type":"quantitative"},"text":{"field":"rt"}}},
      {"data":{"name":"rlab"},"transform":[{"filter":"datum.p=='Fi'"}],"mark":{"type":"text","align":"left","baseline":"middle","fontSize":14.5,"fontStyle":"italic","color":"#000"},"encoding":{"x":{"field":"xi","type":"quantitative"},"y":{"field":"y","type":"quantitative"},"text":{"field":"ri"}}}
    ]},
    {"width":170,"height":156.6,"layer":[
      {"data":{"values":[{}]},"mark":{"type":"rule","color":"#b3b3b3","strokeDash":[6,4]},"encoding":{"x":{"datum":0,"type":"quantitative","scale":{"domain":[-7.03,9.41],"nice":false,"zero":false},"axis":{"values":[-5,0,5],"title":null,"labelFontSize":13.5}}}},
      {"data":{"values":[{}]},"mark":{"type":"rule","color":"#b3b3b3","strokeDash":[6,4]},"encoding":{"y":{"datum":0,"type":"quantitative","scale":{"domain":[-4.48,5.79],"nice":false,"zero":false},"axis":null}}},
      {"data":{"name":"hexseg"},"transform":[{"filter":"datum.p=='Pr'"}],"mark":{"type":"rule","strokeWidth":5.6,"strokeCap":"butt","color":"#b0b0b0"},"encoding":{"x":{"field":"x","type":"quantitative"},"x2":{"field":"x2"},"y":{"field":"y","type":"quantitative","axis":null}}},
      {"data":{"name":"hexdot"},"transform":[{"filter":"datum.p=='Pr'"}],"mark":{"type":"point","shape":"M0,-1L0.866,-0.5L0.866,0.5L0,1L-0.866,0.5L-0.866,-0.5Z","filled":true,"size":23,"opacity":1},"encoding":{"x":{"field":"x","type":"quantitative"},"y":{"field":"y","type":"quantitative","axis":null},"color":{"field":"n","type":"quantitative","scale":{"domain":[-150,5970],"range":["#b3b3b3","#000000"],"interpolate":"lab"},"legend":null}}},
      {"data":{"name":"rlab"},"transform":[{"filter":"datum.p=='Pr'"}],"mark":{"type":"text","align":"left","baseline":"middle","fontSize":14.5,"color":"#000"},"encoding":{"x":{"field":"x","type":"quantitative"},"y":{"field":"y","type":"quantitative","axis":null},"text":{"field":"rt"}}},
      {"data":{"name":"rlab"},"transform":[{"filter":"datum.p=='Pr'"}],"mark":{"type":"text","align":"left","baseline":"middle","fontSize":14.5,"fontStyle":"italic","color":"#000"},"encoding":{"x":{"field":"xi","type":"quantitative"},"y":{"field":"y","type":"quantitative","axis":null},"text":{"field":"ri"}}}
    ]}
   ]}
  ]}
 ]},
{"title":{"text":"B","anchor":"start","frame":"bounds","fontSize":18,"fontWeight":"bold","offset":0,"baseline":"alphabetic","dy":29},
 "vconcat":[
 {"title":{"text":"q-value (phylogenetic model)","orient":"bottom","anchor":"middle","frame":"bounds","fontSize":19,"offset":8},
  "vconcat":[
  {"title":{"text":"q-value (linear model)","orient":"left","anchor":"middle","frame":"bounds","fontSize":19,"offset":12},
   "columns":3,"bounds":"flush","align":"each","spacing":{"row":0,"column":9},
   "concat":[
    {"width":247.5,"height":15.7,"view":{"fill":"#cccccc"},"data":{"values":[{"s":"Actinobacteria"}]},"mark":{"type":"text","fontSize":14.8,"color":"#1a1a1a"},"encoding":{"text":{"field":"s"}}},
    {"width":247.5,"height":15.7,"view":{"fill":"#cccccc"},"data":{"values":[{"s":"Bacteroidetes"}]},"mark":{"type":"text","fontSize":14.8,"color":"#1a1a1a"},"encoding":{"text":{"field":"s"}}},
    {"width":247.5,"height":15.7,"view":{"fill":"#cccccc"},"data":{"values":[{"s":"Delta/Epsilonproteobacteria"}]},"mark":{"type":"text","fontSize":14.8,"color":"#1a1a1a"},"encoding":{"text":{"field":"s"}}},
    {"width":247.5,"height":156.6,"layer":[
      {"data":{"name":"bref"},"mark":{"type":"rule","color":"#c4c4c4","strokeWidth":1},"encoding":{"x":{"field":"v","type":"quantitative","scale":{"domain":[-0.05,1.05],"nice":false,"zero":false},"axis":null},"strokeDash":{"field":"k","type":"nominal","scale":{"domain":["s","d"],"range":[[1,0],[5,4]]},"legend":null}}},
      {"data":{"name":"bref"},"mark":{"type":"rule","color":"#c4c4c4","strokeWidth":1},"encoding":{"y":{"field":"v","type":"quantitative","scale":{"domain":[-0.05,1.05],"nice":false,"zero":false},"axis":{"values":[0,0.25,0.5,0.75,1],"title":null,"labelFontSize":15.5,"labelExpr":"datum.value==0?'0':datum.value==1?'1':format(datum.value,'.2f')"}},"strokeDash":{"field":"k","type":"nominal","scale":{"domain":["s","d"],"range":[[1,0],[5,4]]},"legend":null}}},
      {"data":{"name":"diag"},"mark":{"type":"rule","color":"#c4c4c4","strokeWidth":1},"encoding":{"x":{"field":"a","type":"quantitative","axis":null},"y":{"field":"a","type":"quantitative"},"x2":{"field":"b"},"y2":{"field":"b"}}},
      {"data":{"name":"pts"},"transform":[{"filter":"datum.p=='Ac'"}],"mark":{"type":"circle","size":78,"fill":"#000","fillOpacity":0.33,"stroke":"#000","strokeOpacity":0.33,"strokeWidth":0.8,"opacity":1},"encoding":{"x":{"field":"x","type":"quantitative","axis":null},"y":{"field":"y","type":"quantitative"}}},
      {"data":{"name":"seg"},"transform":[{"filter":"datum.p=='Ac'"}],"mark":{"type":"rule","color":"#000","strokeWidth":1},"encoding":{"x":{"field":"x","type":"quantitative","axis":null},"y":{"field":"y","type":"quantitative"},"x2":{"field":"x2"},"y2":{"field":"y2"}}},
      {"data":{"name":"lab"},"transform":[{"filter":"datum.p=='Ac'"}],"mark":{"type":"text","fontSize":17,"color":"#000"},"encoding":{"x":{"field":"x","type":"quantitative","axis":null},"y":{"field":"y","type":"quantitative"},"text":{"field":"t"}}}
    ]},
    {"width":247.5,"height":156.6,"layer":[
      {"data":{"name":"bref"},"mark":{"type":"rule","color":"#c4c4c4","strokeWidth":1},"encoding":{"x":{"field":"v","type":"quantitative","scale":{"domain":[-0.05,1.05],"nice":false,"zero":false},"axis":null},"strokeDash":{"field":"k","type":"nominal","scale":{"domain":["s","d"],"range":[[1,0],[5,4]]},"legend":null}}},
      {"data":{"name":"bref"},"mark":{"type":"rule","color":"#c4c4c4","strokeWidth":1},"encoding":{"y":{"field":"v","type":"quantitative","scale":{"domain":[-0.05,1.05],"nice":false,"zero":false},"axis":null},"strokeDash":{"field":"k","type":"nominal","scale":{"domain":["s","d"],"range":[[1,0],[5,4]]},"legend":null}}},
      {"data":{"name":"diag"},"mark":{"type":"rule","color":"#c4c4c4","strokeWidth":1},"encoding":{"x":{"field":"a","type":"quantitative","axis":null},"y":{"field":"a","type":"quantitative","axis":null},"x2":{"field":"b"},"y2":{"field":"b"}}},
      {"data":{"name":"pts"},"transform":[{"filter":"datum.p=='Ba'"}],"mark":{"type":"circle","size":78,"fill":"#000","fillOpacity":0.33,"stroke":"#000","strokeOpacity":0.33,"strokeWidth":0.8,"opacity":1},"encoding":{"x":{"field":"x","type":"quantitative","axis":null},"y":{"field":"y","type":"quantitative","axis":null}}},
      {"data":{"name":"seg"},"transform":[{"filter":"datum.p=='Ba'"}],"mark":{"type":"rule","color":"#000","strokeWidth":1},"encoding":{"x":{"field":"x","type":"quantitative","axis":null},"y":{"field":"y","type":"quantitative","axis":null},"x2":{"field":"x2"},"y2":{"field":"y2"}}},
      {"data":{"name":"lab"},"transform":[{"filter":"datum.p=='Ba'"}],"mark":{"type":"text","fontSize":17,"color":"#000"},"encoding":{"x":{"field":"x","type":"quantitative","axis":null},"y":{"field":"y","type":"quantitative","axis":null},"text":{"field":"t"}}}
    ]},
    {"width":247.5,"height":156.6,"layer":[
      {"data":{"name":"bref"},"mark":{"type":"rule","color":"#c4c4c4","strokeWidth":1},"encoding":{"x":{"field":"v","type":"quantitative","scale":{"domain":[-0.05,1.05],"nice":false,"zero":false},"axis":null},"strokeDash":{"field":"k","type":"nominal","scale":{"domain":["s","d"],"range":[[1,0],[5,4]]},"legend":null}}},
      {"data":{"name":"bref"},"mark":{"type":"rule","color":"#c4c4c4","strokeWidth":1},"encoding":{"y":{"field":"v","type":"quantitative","scale":{"domain":[-0.05,1.05],"nice":false,"zero":false},"axis":null},"strokeDash":{"field":"k","type":"nominal","scale":{"domain":["s","d"],"range":[[1,0],[5,4]]},"legend":null}}},
      {"data":{"name":"diag"},"mark":{"type":"rule","color":"#c4c4c4","strokeWidth":1},"encoding":{"x":{"field":"a","type":"quantitative","axis":null},"y":{"field":"a","type":"quantitative","axis":null},"x2":{"field":"b"},"y2":{"field":"b"}}},
      {"data":{"name":"pts"},"transform":[{"filter":"datum.p=='De'"}],"mark":{"type":"circle","size":78,"fill":"#000","fillOpacity":0.33,"stroke":"#000","strokeOpacity":0.33,"strokeWidth":0.8,"opacity":1},"encoding":{"x":{"field":"x","type":"quantitative","axis":null},"y":{"field":"y","type":"quantitative","axis":null}}}
    ]},
    {"width":247.5,"height":9.7,"data":{"values":[{"s":""}]},"mark":{"type":"text"},"encoding":{"text":{"field":"s"}}},
    {"width":247.5,"height":9.7,"data":{"values":[{"s":""}]},"mark":{"type":"text"},"encoding":{"text":{"field":"s"}}},
    {"width":247.5,"height":9.7,"data":{"values":[{"s":""}]},"mark":{"type":"text"},"encoding":{"text":{"field":"s"}}},
    {"width":247.5,"height":15.7,"view":{"fill":"#cccccc"},"data":{"values":[{"s":"Firmicutes"}]},"mark":{"type":"text","fontSize":14.8,"color":"#1a1a1a"},"encoding":{"text":{"field":"s"}}},
    {"width":247.5,"height":15.7,"view":{"fill":"#cccccc"},"data":{"values":[{"s":"Fusobacteria"}]},"mark":{"type":"text","fontSize":14.8,"color":"#1a1a1a"},"encoding":{"text":{"field":"s"}}},
    {"width":247.5,"height":15.7,"view":{"fill":"#cccccc"},"data":{"values":[{"s":"Alpha-/Beta-/Gammaproteobacteria"}]},"mark":{"type":"text","fontSize":14.8,"color":"#1a1a1a"},"encoding":{"text":{"field":"s"}}},
    {"width":247.5,"height":156.6,"layer":[
      {"data":{"name":"bref"},"mark":{"type":"rule","color":"#c4c4c4","strokeWidth":1},"encoding":{"x":{"field":"v","type":"quantitative","scale":{"domain":[-0.05,1.05],"nice":false,"zero":false},"axis":{"values":[0,0.25,0.5,0.75,1],"title":null,"labelFontSize":15.5,"labelExpr":"datum.value==0?'0':datum.value==1?'1':format(datum.value,'.2f')"}},"strokeDash":{"field":"k","type":"nominal","scale":{"domain":["s","d"],"range":[[1,0],[5,4]]},"legend":null}}},
      {"data":{"name":"bref"},"mark":{"type":"rule","color":"#c4c4c4","strokeWidth":1},"encoding":{"y":{"field":"v","type":"quantitative","scale":{"domain":[-0.05,1.05],"nice":false,"zero":false},"axis":{"values":[0,0.25,0.5,0.75,1],"title":null,"labelFontSize":15.5,"labelExpr":"datum.value==0?'0':datum.value==1?'1':format(datum.value,'.2f')"}},"strokeDash":{"field":"k","type":"nominal","scale":{"domain":["s","d"],"range":[[1,0],[5,4]]},"legend":null}}},
      {"data":{"name":"diag"},"mark":{"type":"rule","color":"#c4c4c4","strokeWidth":1},"encoding":{"x":{"field":"a","type":"quantitative"},"y":{"field":"a","type":"quantitative"},"x2":{"field":"b"},"y2":{"field":"b"}}},
      {"data":{"name":"pts"},"transform":[{"filter":"datum.p=='Fi'"}],"mark":{"type":"circle","size":78,"fill":"#000","fillOpacity":0.33,"stroke":"#000","strokeOpacity":0.33,"strokeWidth":0.8,"opacity":1},"encoding":{"x":{"field":"x","type":"quantitative"},"y":{"field":"y","type":"quantitative"}}},
      {"data":{"name":"seg"},"transform":[{"filter":"datum.p=='Fi'"}],"mark":{"type":"rule","color":"#000","strokeWidth":1},"encoding":{"x":{"field":"x","type":"quantitative"},"y":{"field":"y","type":"quantitative"},"x2":{"field":"x2"},"y2":{"field":"y2"}}},
      {"data":{"name":"lab"},"transform":[{"filter":"datum.p=='Fi'"}],"mark":{"type":"text","fontSize":17,"color":"#000"},"encoding":{"x":{"field":"x","type":"quantitative"},"y":{"field":"y","type":"quantitative"},"text":{"field":"t"}}}
    ]},
    {"width":247.5,"height":156.6,"layer":[
      {"data":{"name":"bref"},"mark":{"type":"rule","color":"#c4c4c4","strokeWidth":1},"encoding":{"x":{"field":"v","type":"quantitative","scale":{"domain":[-0.05,1.05],"nice":false,"zero":false},"axis":{"values":[0,0.25,0.5,0.75,1],"title":null,"labelFontSize":15.5,"labelExpr":"datum.value==0?'0':datum.value==1?'1':format(datum.value,'.2f')"}},"strokeDash":{"field":"k","type":"nominal","scale":{"domain":["s","d"],"range":[[1,0],[5,4]]},"legend":null}}},
      {"data":{"name":"bref"},"mark":{"type":"rule","color":"#c4c4c4","strokeWidth":1},"encoding":{"y":{"field":"v","type":"quantitative","scale":{"domain":[-0.05,1.05],"nice":false,"zero":false},"axis":null},"strokeDash":{"field":"k","type":"nominal","scale":{"domain":["s","d"],"range":[[1,0],[5,4]]},"legend":null}}},
      {"data":{"name":"diag"},"mark":{"type":"rule","color":"#c4c4c4","strokeWidth":1},"encoding":{"x":{"field":"a","type":"quantitative"},"y":{"field":"a","type":"quantitative","axis":null},"x2":{"field":"b"},"y2":{"field":"b"}}},
      {"data":{"name":"pts"},"transform":[{"filter":"datum.p=='Fu'"}],"mark":{"type":"circle","size":78,"fill":"#000","fillOpacity":0.33,"stroke":"#000","strokeOpacity":0.33,"strokeWidth":0.8,"opacity":1},"encoding":{"x":{"field":"x","type":"quantitative"},"y":{"field":"y","type":"quantitative","axis":null}}}
    ]},
    {"width":247.5,"height":156.6,"layer":[
      {"data":{"name":"bref"},"mark":{"type":"rule","color":"#c4c4c4","strokeWidth":1},"encoding":{"x":{"field":"v","type":"quantitative","scale":{"domain":[-0.05,1.05],"nice":false,"zero":false},"axis":{"values":[0,0.25,0.5,0.75,1],"title":null,"labelFontSize":15.5,"labelExpr":"datum.value==0?'0':datum.value==1?'1':format(datum.value,'.2f')"}},"strokeDash":{"field":"k","type":"nominal","scale":{"domain":["s","d"],"range":[[1,0],[5,4]]},"legend":null}}},
      {"data":{"name":"bref"},"mark":{"type":"rule","color":"#c4c4c4","strokeWidth":1},"encoding":{"y":{"field":"v","type":"quantitative","scale":{"domain":[-0.05,1.05],"nice":false,"zero":false},"axis":null},"strokeDash":{"field":"k","type":"nominal","scale":{"domain":["s","d"],"range":[[1,0],[5,4]]},"legend":null}}},
      {"data":{"name":"diag"},"mark":{"type":"rule","color":"#c4c4c4","strokeWidth":1},"encoding":{"x":{"field":"a","type":"quantitative"},"y":{"field":"a","type":"quantitative","axis":null},"x2":{"field":"b"},"y2":{"field":"b"}}},
      {"data":{"name":"pts"},"transform":[{"filter":"datum.p=='Al'"}],"mark":{"type":"circle","size":78,"fill":"#000","fillOpacity":0.33,"stroke":"#000","strokeOpacity":0.33,"strokeWidth":0.8,"opacity":1},"encoding":{"x":{"field":"x","type":"quantitative"},"y":{"field":"y","type":"quantitative","axis":null}}},
      {"data":{"name":"seg"},"transform":[{"filter":"datum.p=='Al'"}],"mark":{"type":"rule","color":"#000","strokeWidth":1},"encoding":{"x":{"field":"x","type":"quantitative"},"y":{"field":"y","type":"quantitative","axis":null},"x2":{"field":"x2"},"y2":{"field":"y2"}}},
      {"data":{"name":"lab"},"transform":[{"filter":"datum.p=='Al'"}],"mark":{"type":"text","fontSize":17,"color":"#000"},"encoding":{"x":{"field":"x","type":"quantitative"},"y":{"field":"y","type":"quantitative","axis":null},"text":{"field":"t"}}}
    ]}
   ]}
  ]}
 ]}
]
}
